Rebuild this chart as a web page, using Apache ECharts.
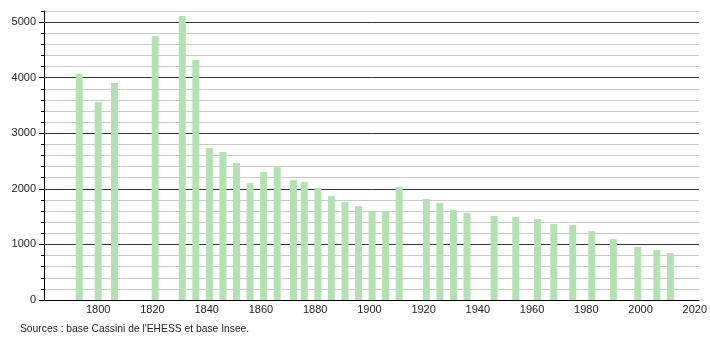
<!DOCTYPE html>
<html>
<head>
<meta charset="utf-8">
<script src="https://cdn.jsdelivr.net/npm/echarts@6/dist/echarts.min.js"></script>
<style>html,body{margin:0;padding:0;background:#fff;}#c{width:710px;height:340px;}</style>
</head>
<body>
<div id="c"></div>
<script>
const years = [1793,1800,1806,1821,1831,1836,1841,1846,1851,1856,1861,1866,1872,1876,1881,1886,1891,1896,1901,1906,1911,1921,1926,1931,1936,1946,1954,1962,1968,1975,1982,1990,1999,2006,2011];
const population = [4065,3561,3903,4748,5108,4317,2734,2662,2464,2104,2302,2387,2158,2122,2014,1870,1762,1690,1589,1589,2032,1817,1745,1619,1565,1511,1493,1457,1367,1349,1241,1097,953,899,845];
const sourceText = "Sources : base Cassini de l'EHESS et base Insee.";

const font = 'Liberation Sans, Arial, sans-serif';
const chart = echarts.init(document.getElementById('c'), null, {renderer:'canvas'});
chart.setOption({
  animation: false,
  backgroundColor: '#fff',
  grid: [
    {left: 44, right: 10, top: 11, bottom: 40},
    {left: 44, right: 10, top: 300 - 5000 * 289 / 5200, bottom: 40}
  ],
  xAxis: [
    {
      type: 'value', gridIndex: 0, min: 1780, max: 2021.6, interval: 20,
      axisLine: {show: true, lineStyle: {color: '#000', width: 1}},
      axisTick: {show: false},
      splitLine: {show: false},
      axisLabel: {
        color: '#222', fontFamily: font, fontSize: 11, margin: 4,
        formatter: v => (v % 20 === 0 && v > 1780 && v <= 2020) ? String(v) : ''
      }
    },
    {type: 'value', gridIndex: 1, min: 1780, max: 2021.6, show: false}
  ],
  yAxis: [
    {
      type: 'value', gridIndex: 0, min: 0, max: 5200, interval: 200,
      axisLine: {show: true, lineStyle: {color: '#000', width: 1}},
      axisTick: {show: true, length: 3, lineStyle: {color: '#000'}},
      axisLabel: {show: false},
      splitLine: {show: true, lineStyle: {color: ['#333','#c8c8c8','#c8c8c8','#c8c8c8','#c8c8c8'], width: 1}}
    },
    {
      type: 'value', gridIndex: 1, min: 0, max: 5000, interval: 1000,
      axisLine: {show: false},
      axisTick: {show: true, length: 5, lineStyle: {color: '#000'}},
      axisLabel: {color: '#222', fontFamily: font, fontSize: 11, margin: 8, formatter: v => String(v)},
      splitLine: {show: false}
    }
  ],
  series: [{
    type: 'bar',
    xAxisIndex: 0, yAxisIndex: 0,
    barWidth: 7,
    itemStyle: {color: '#b2e2b2'},
    data: years.map((y, i) => [y, population[i]])
  }],
  graphic: [{
    type: 'text', left: 20, top: 324,
    style: {text: sourceText, font: '10.3px ' + font, fill: '#222'}
  }]
});
</script>
</body>
</html>
